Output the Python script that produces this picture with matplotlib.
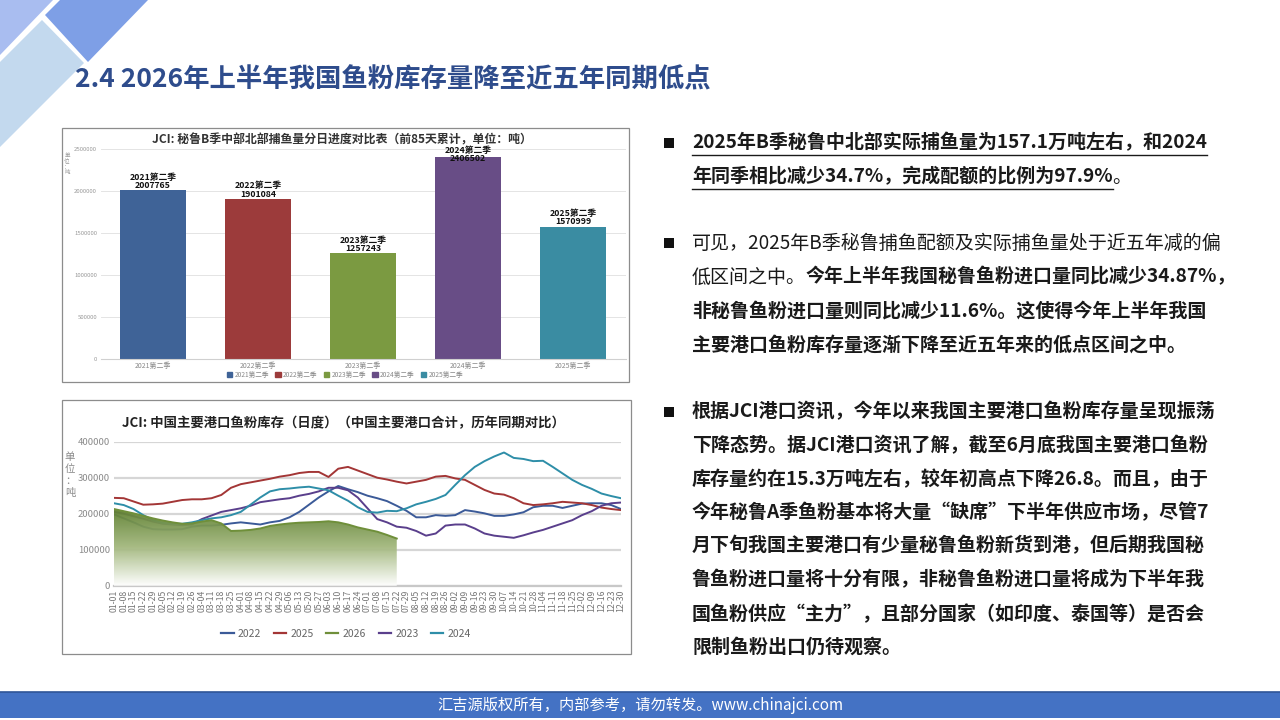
import numpy as np
import matplotlib
matplotlib.use("Agg")
import matplotlib.pyplot as plt
from matplotlib.patches import Rectangle, Polygon
from matplotlib.lines import Line2D
from matplotlib.colors import LinearSegmentedColormap

plt.rcParams['font.family'] = ['Noto Sans CJK SC', 'DejaVu Sans']

W, H = 1280, 720

# ---------------- 数据 ----------------
# 柱状图：秘鲁B季中北部捕鱼量（前85天累计）
bar_cats = ['2021第二季', '2022第二季', '2023第二季', '2024第二季', '2025第二季']
bar_vals = [2007765, 1901084, 1257243, 2406502, 1570999]
bar_colors = ['#3f6397', '#9c3b3b', '#7b9a41', '#684d86', '#3a8ca2']
bar_yticks = [0, 500000, 1000000, 1500000, 2000000, 2500000]

# 折线图：中国主要港口鱼粉库存（按周读取，千吨）
date_labels = ['01-01', '01-08', '01-15', '01-22', '01-29', '02-05', '02-12', '02-19',
               '02-26', '03-04', '03-11', '03-18', '03-25', '04-01', '04-08', '04-15',
               '04-22', '04-29', '05-06', '05-13', '05-20', '05-27', '06-03', '06-10',
               '06-17', '06-24', '07-01', '07-08', '07-15', '07-22', '07-29', '08-05',
               '08-12', '08-19', '08-26', '09-02', '09-09', '09-16', '09-23', '09-30',
               '10-07', '10-14', '10-21', '10-28', '11-04', '11-11', '11-18', '11-25',
               '12-02', '12-09', '12-16', '12-23', '12-30']

stock_2022 = [198, 187, 176, 164, 157, 156, 156, 157, 164, 167, 167, 169, 173, 176,
              173, 170, 176, 180, 190, 205, 225, 245, 262, 277, 268, 260, 250,
              243, 235, 222, 208, 190, 190, 196, 194, 196, 210, 206, 201, 194,
              194, 198, 204, 218, 222, 222, 216, 222, 228, 229, 229, 224, 213]
stock_2025 = [244, 243, 234, 225, 226, 228, 233, 238, 240, 240, 243, 252, 272, 282,
              287, 292, 297, 303, 307, 313, 316, 316, 302, 325, 330, 320, 310,
              300, 295, 289, 284, 289, 294, 303, 305, 298, 294, 280, 266, 256,
              253, 243, 229, 224, 226, 229, 233, 231, 229, 224, 217, 213, 210]
stock_2026 = [213, 207, 201, 194, 187, 181, 176, 172, 173, 178, 182, 173, 152, 153,
              155, 159, 166, 170, 173, 175, 176, 177, 179, 176, 170, 162, 156,
              150, 141, 131]
stock_2023 = [205, 200, 193, 186, 178, 172, 170, 168, 170, 185, 195, 205, 210, 215,
              222, 232, 236, 240, 243, 250, 255, 262, 272, 272, 265, 245, 215,
              185, 176, 164, 161, 152, 139, 145, 167, 170, 170, 159, 145, 139,
              136, 133, 140, 148, 155, 164, 173, 182, 196, 207, 222, 229, 231]
stock_2024 = [229, 224, 213, 196, 182, 174, 172, 172, 176, 182, 187, 190, 196, 205,
              225, 245, 262, 268, 270, 273, 275, 270, 265, 250, 236, 218, 205,
              203, 208, 207, 215, 226, 233, 241, 252, 280, 307, 330, 346, 359,
              370, 355, 352, 346, 347, 330, 312, 294, 280, 269, 256, 249, 243]
line_yticks = [0, 100000, 200000, 300000, 400000]

series_order = ['2022', '2025', '2026', '2023', '2024']
series_vals = {'2022': stock_2022, '2025': stock_2025, '2026': stock_2026,
               '2023': stock_2023, '2024': stock_2024}
series_colors = {'2022': '#3b5a98', '2025': '#a33636', '2026': '#6f8f3a',
                 '2023': '#5a3f8c', '2024': '#2e8ea8'}


def fx(px):
    return px / W


def fy(py):
    return 1 - py / H


fig = plt.figure(figsize=(12.8, 7.2), dpi=100)
fig.patch.set_facecolor('white')

# ---------------- 左上角装饰 ----------------
deco = fig.add_axes([0, 0, 1, 1], zorder=0)
deco.set_xlim(0, W)
deco.set_ylim(H, 0)
deco.axis('off')
deco.add_patch(Polygon([(0, 0), (53, 0), (0, 55)], closed=True, color='#a9bdf0', lw=0))
deco.add_patch(Polygon([(60, 0), (148, 0), (88, 62), (45, 15)], closed=True, color='#7e9fe6', lw=0))
deco.add_patch(Polygon([(0, 62), (42, 20), (84, 63), (0, 147)], closed=True,
                       color='#c3d9ee', lw=0))

# 标题
fig.text(fx(75), fy(80), '2.4 2026年上半年我国鱼粉库存量降至近五年同期低点',
         fontsize=19, fontweight='bold', color='#2e4c8c', va='center', ha='left')

# 边框
deco.add_patch(Rectangle((62, 128), 567, 254, fill=False, ec='#8c8c8c', lw=0.9))
deco.add_patch(Rectangle((62, 400), 569, 254, fill=False, ec='#8c8c8c', lw=0.9))

# 页脚
deco.add_patch(Rectangle((0, 692), W, 26, color='#4472c4', lw=0))
deco.plot([0, W], [692, 692], color='#2f5597', lw=1.2)
fig.text(0.5, fy(706), '汇吉源版权所有，内部参考，请勿转发。www.chinajci.com',
         color='white', fontsize=11, ha='center', va='center')

# ---------------- 柱状图 ----------------
ax1 = fig.add_axes([fx(100.5), fy(359), fx(525), fy(149) - fy(359)])
xpos = np.arange(len(bar_cats))
ax1.bar(xpos, bar_vals, width=0.63, color=bar_colors, zorder=2)
ax1.set_xlim(-0.5, 4.5)
ax1.set_ylim(0, 2500000)
ax1.set_yticks(bar_yticks)
ax1.set_yticklabels([str(v) for v in bar_yticks], fontsize=4.3, color='#999999')
ax1.set_xticks(xpos)
ax1.set_xticklabels(bar_cats, fontsize=5, color='#888888')
ax1.tick_params(length=0, pad=2.5)
ax1.grid(axis='y', color='#e4e4e4', lw=0.7, zorder=0)
for s in ['top', 'right', 'left']:
    ax1.spines[s].set_visible(False)
ax1.spines['bottom'].set_color('#d0d0d0')
for x, v, c in zip(xpos, bar_vals, bar_cats):
    base = min(v + 8000, 2330000)
    ax1.text(x, base, f'{c}\n{v}', ha='center', va='bottom', fontsize=6.3,
             fontweight='bold', color='#111111', linespacing=0.88, clip_on=False, zorder=5)
fig.text(fx(342), fy(140), 'JCI: 秘鲁B季中部北部捕鱼量分日进度对比表（前85天累计，单位：吨）',
         ha='center', va='center', fontsize=8.6, fontweight='bold', color='#333333')
fig.text(fx(67), fy(164), '单\n位\n：\n吨', ha='center', va='center', fontsize=4,
         color='#999999', linespacing=1.1)
bar_handles = [Rectangle((0, 0), 1, 1, color=c) for c in bar_colors]
fig.legend(bar_handles, bar_cats, loc='center', bbox_to_anchor=(fx(345), fy(375)),
           ncol=5, frameon=False, fontsize=4.8, labelcolor='#888888',
           handlelength=0.8, handleheight=0.8, handletextpad=0.3, columnspacing=1.0)

# ---------------- 折线图 ----------------
ax2 = fig.add_axes([fx(114), fy(585.7), fx(507), fy(441.7) - fy(585.7)])
for yr in ['2022', '2025', '2023', '2024']:
    vals = np.array(series_vals[yr]) * 1000
    ax2.plot(np.arange(len(vals)), vals, color=series_colors[yr], lw=1.4, zorder=3)

v26 = np.array(stock_2026) * 1000
x26 = np.arange(len(v26))
poly = ax2.fill_between(x26, v26, 0, color='none', lw=0)
grad = np.linspace(0, 1, 256).reshape(-1, 1)
cmap = LinearSegmentedColormap.from_list('g', ['#ffffff', '#a3b87e', '#5f8030'])
im = ax2.imshow(grad, extent=[0, x26[-1], 0, v26.max()], origin='lower', aspect='auto',
                cmap=cmap, alpha=0.94, zorder=4)
im.set_clip_path(poly.get_paths()[0], transform=ax2.transData)
ax2.plot(x26, v26, color=series_colors['2026'], lw=1.4, zorder=5)
ax2.set_xlim(0, len(date_labels) - 1)
ax2.set_ylim(0, 400000)

ax2.set_yticks(line_yticks)
ax2.set_yticklabels([str(v) for v in line_yticks], fontsize=6.8, color='#8a8a8a')
ax2.set_xticks(np.arange(len(date_labels)))
ax2.set_xticklabels(date_labels, rotation=90, fontsize=6.3, color='#777777')
ax2.tick_params(length=0, pad=3)
ax2.grid(axis='y', color='#d6d6d6', lw=1.6, zorder=0)
for s in ['top', 'right', 'left']:
    ax2.spines[s].set_visible(False)
ax2.spines['bottom'].set_color('#c8c8c8')
ax2.spines['bottom'].set_linewidth(1.6)
ax2.set_facecolor('none')

fig.text(fx(122), fy(423), 'JCI: 中国主要港口鱼粉库存（日度）（中国主要港口合计，历年同期对比）',
         ha='left', va='center', fontsize=9.6, fontweight='bold', color='#222222')
fig.text(fx(70), fy(475), '单\n位\n：\n吨', ha='center', va='center', fontsize=7.5,
         color='#8a8a8a', linespacing=1.25)
line_handles = [Line2D([0], [0], color=series_colors[k], lw=1.6) for k in series_order]
fig.legend(line_handles, series_order, loc='center', bbox_to_anchor=(fx(346), fy(634)),
           ncol=5, frameon=False, fontsize=7.5, labelcolor='#666666',
           handlelength=1.2, handletextpad=0.4, columnspacing=1.2)

# ---------------- 右侧文字 ----------------
fig.canvas.draw()
renderer = fig.canvas.get_renderer()
FS = 13.7
TX = 692


def draw_line(y, segments):
    x = TX
    for txt, weight, underline in segments:
        t = fig.text(fx(x), fy(y), txt, fontsize=FS, fontweight=weight,
                     color='#1a1a1a', ha='left', va='center')
        w = t.get_window_extent(renderer).width
        if underline:
            deco.plot([x, x + w], [y + 12, y + 12], color='#1a1a1a', lw=1.0)
        x += w


def bullet(y):
    deco.add_patch(Rectangle((664, y - 5), 10, 10, color='#111111', lw=0))


para1 = [
    (143, [('2025年B季秘鲁中北部实际捕鱼量为157.1万吨左右，和2024', 'bold', True)]),
    (177, [('年同季相比减少34.7%，完成配额的比例为97.9%', 'bold', True), ('。', 'normal', False)]),
]
para2 = [
    (243, [('可见，2025年B季秘鲁捕鱼配额及实际捕鱼量处于近五年减的偏', 'normal', False)]),
    (277, [('低区间之中。', 'normal', False), ('今年上半年我国秘鲁鱼粉进口量同比减少34.87%，', 'bold', False)]),
    (311, [('非秘鲁鱼粉进口量则同比减少11.6%。这使得今年上半年我国', 'bold', False)]),
    (345, [('主要港口鱼粉库存量逐渐下降至近五年来的低点区间之中。', 'bold', False)]),
]
para3_lines = ['根据JCI港口资讯，今年以来我国主要港口鱼粉库存量呈现振荡',
               '下降态势。据JCI港口资讯了解，截至6月底我国主要港口鱼粉',
               '库存量约在15.3万吨左右，较年初高点下降26.8。而且，由于',
               '今年秘鲁A季鱼粉基本将大量“缺席”下半年供应市场，尽管7',
               '月下旬我国主要港口有少量秘鲁鱼粉新货到港，但后期我国秘',
               '鲁鱼粉进口量将十分有限，非秘鲁鱼粉进口量将成为下半年我',
               '国鱼粉供应“主力”，且部分国家（如印度、泰国等）是否会',
               '限制鱼粉出口仍待观察。']
para3_y = [412, 446, 479, 513, 546, 580, 614, 647]
para3 = [(y, [(s, 'bold', False)]) for y, s in zip(para3_y, para3_lines)]

for para in [para1, para2, para3]:
    bullet(para[0][0])
    for y, segs in para:
        draw_line(y, segs)

fig.savefig('out.png', dpi=100)
